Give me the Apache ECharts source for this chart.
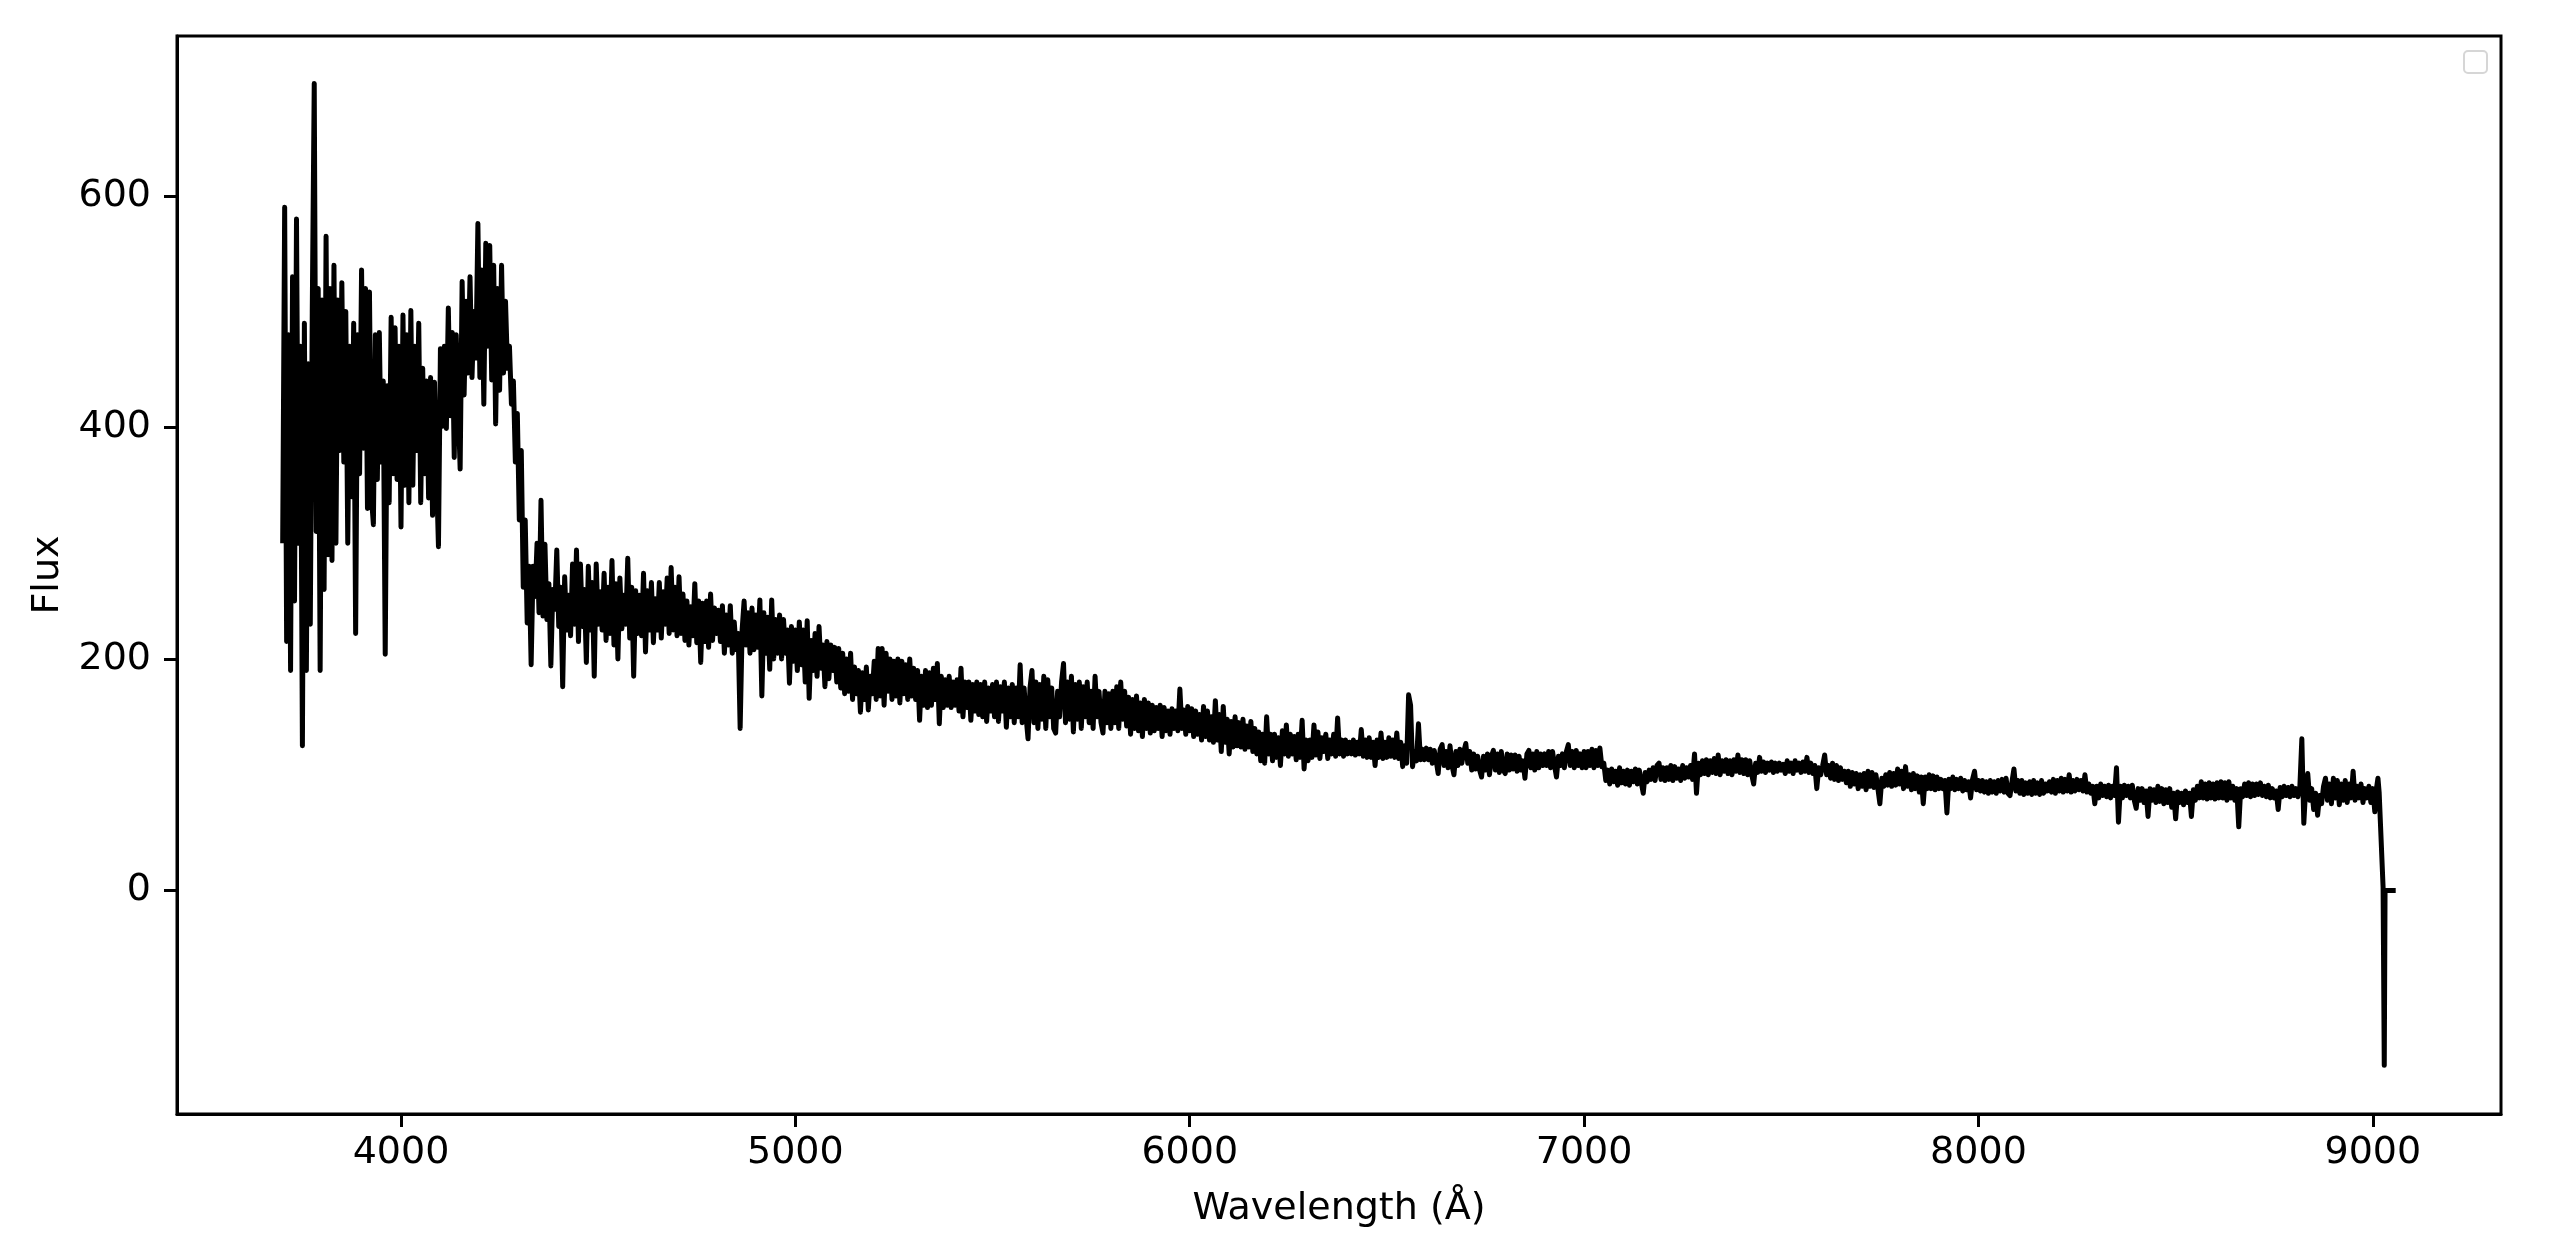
<!DOCTYPE html>
<html><head><meta charset="utf-8">
<script src="https://cdn.jsdelivr.net/npm/echarts@6/dist/echarts.min.js"></script>
<style>html,body{margin:0;padding:0;background:#fff}#c{width:2550px;height:1246px}</style>
</head><body><div id="c"></div><script>
// Blue end of the spectrum: 3700..4400 Å, every 5 Å
const blueStart = 3700, blueStep = 5;
const blueFlux = [
300,590,215,480,190,530,250,580,300,470,125,490,190,455,230,500,697,310,520,190,
510,260,565,290,520,285,540,300,510,380,525,370,500,300,470,340,490,222,480,360,
536,382,520,330,517,340,316,480,355,482,370,440,204,436,335,495,360,486,355,470,
314,497,350,480,335,501,350,470,380,490,335,451,360,440,339,443,324,439,360,297,
468,401,470,399,503,410,482,374,480,420,364,526,428,509,447,530,443,500,460,576,
443,536,420,559,470,557,441,540,403,520,432,540,447,509,451,470,420,440,370,412,
320,380,262,320,231,280,195,280,254,300,240,337,237,299,234,265,194,260,243,294,
228];
// Middle: 4405..7000 Å, every 5 Å (one row = 100 Å)
const midStart = 4405, midStep = 5;
const midFlux = [
262,176,271,225,255,220,282,230,294,215,282,228,260,197,280,225,266,185,282,230,
258,225,274,216,262,222,285,212,265,200,270,226,255,230,287,218,262,185,259,222,
255,220,274,206,259,225,266,214,252,225,266,218,258,230,270,222,279,225,262,220,
271,222,256,216,250,212,245,220,265,214,250,197,248,215,250,210,256,216,244,222,
242,215,246,205,238,212,246,205,232,208,222,140,225,250,212,240,205,244,208,238,
210,251,168,240,205,236,191,251,200,234,205,238,200,234,205,225,179,228,198,225,
190,232,195,225,180,233,166,216,190,222,185,228,192,212,176,215,183,212,190,210,
180,209,175,205,170,200,172,205,165,193,170,190,154,188,165,193,156,185,170,198,
165,209,168,209,160,205,172,200,165,198,168,200,162,198,170,195,165,200,168,192,
165,190,147,185,160,190,158,188,160,192,165,196,144,185,158,182,160,185,158,180,
160,182,155,192,150,180,158,180,147,178,155,180,152,178,150,180,146,175,155,178,
150,180,146,176,155,180,141,175,150,178,145,175,150,195,145,175,150,131,175,190,
145,180,140,178,148,185,140,182,150,175,140,136,172,150,180,196,145,180,148,185,
137,178,148,180,140,176,150,180,145,172,140,185,150,172,145,136,172,145,170,140,
172,145,176,140,180,148,172,142,167,135,165,140,168,138,162,133,165,140,162,136,
160,138,158,140,160,133,158,138,155,135,157,140,155,138,174,140,156,135,159,138,
157,133,155,135,152,130,159,133,155,130,150,128,164,130,152,120,159,128,148,118,
146,124,150,125,145,124,148,122,142,124,146,120,140,118,137,112,135,110,150,118,
135,112,135,115,132,108,138,118,143,116,135,118,133,113,135,115,147,105,130,112,
130,115,143,117,137,114,132,120,135,114,130,118,135,116,149,118,130,116,130,118,
128,118,130,117,128,118,139,116,130,115,132,115,128,108,130,115,136,114,128,115,
132,116,130,115,136,114,128,107,125,110,169,160,107,120,112,144,113,122,113,123,
113,122,110,121,112,101,122,126,108,120,106,125,108,100,120,108,122,110,120,127,
110,120,104,118,105,116,104,98,116,104,118,100,116,121,104,118,102,120,104,101,
118,104,117,105,117,103,116,104,112,97,118,121,106,118,104,120,106,118,108,118,
108,120,106,120,108,98,116,108,118,106,120,126,108,120,106,121,108,118,106,120];
// Red end: 7005..9010 Å, every 5 Å (one row = 100 Å)
const redStart = 7005, redStep = 5;
const redFlux = [
106,120,108,122,106,121,108,123,107,110,95,104,92,105,94,103,91,106,93,103,
92,104,91,103,94,105,92,104,93,84,102,94,104,96,106,95,108,110,96,106,
95,106,96,108,95,107,97,105,95,108,97,106,98,108,96,118,84,110,100,112,
101,113,100,112,102,114,101,117,100,112,103,113,101,112,100,113,103,117,102,113,
101,113,100,112,100,92,110,102,115,103,111,102,110,104,111,102,110,103,110,104,
109,101,112,103,110,101,112,104,110,102,111,103,115,102,110,101,108,88,106,100,
108,117,100,108,97,110,96,108,95,106,96,103,93,103,90,102,92,101,88,100,
90,101,87,103,90,102,89,100,88,75,97,90,100,91,102,90,101,91,105,92,
103,88,107,90,100,87,101,88,99,85,98,75,98,88,100,88,99,87,98,88,
96,88,95,67,96,88,98,87,96,88,97,86,95,87,94,80,96,103,87,95,
86,95,85,94,84,95,85,94,84,95,86,96,85,97,84,82,94,105,86,95,
84,95,83,93,84,94,83,95,84,93,83,95,84,92,86,94,85,96,84,95,
86,97,85,96,86,100,85,95,86,96,87,95,86,100,85,92,84,90,75,90,
80,92,82,90,81,91,80,90,82,106,59,90,80,91,82,90,80,91,78,71,
88,78,88,76,86,64,88,78,87,76,90,77,88,75,87,76,88,72,84,62,
85,76,84,74,86,76,84,64,87,78,90,80,94,80,92,79,93,80,92,79,
93,80,94,80,93,78,94,80,90,78,88,55,88,81,92,82,93,81,92,82,
92,83,93,82,90,81,91,80,88,80,86,70,89,81,90,82,89,81,90,82,
88,81,90,131,58,90,101,78,88,70,84,65,82,75,90,97,78,92,75,97,
80,95,74,92,78,95,76,92,80,103,78,90,80,92,76,88,80,90,76,88,
68,90];
// Detector edge
const tailWave = [9013, 9016, 9026, 9029, 9031, 9058];
const tailFlux = [97, 85, 3, -151, 0, 0];

const xTicks = [4000, 5000, 6000, 7000, 8000, 9000];
const yTicks = [0, 200, 400, 600];

function build(start, step, arr) { return arr.map((v, i) => [start + i * step, v]); }
const data = [].concat(
  build(blueStart, blueStep, blueFlux),
  build(midStart, midStep, midFlux),
  build(redStart, redStep, redFlux),
  tailWave.map((w, i) => [w, tailFlux[i]])
);

const FONT = 'DejaVu Sans';
const FS = 38;
const chart = echarts.init(document.getElementById('c'), null, {renderer: 'canvas'});
chart.setOption({
  animation: false,
  backgroundColor: '#fff',
  grid: {left: 177, right: 49, top: 36, bottom: 132, show: true, borderColor: '#000', borderWidth: 3, backgroundColor: 'transparent'},
  xAxis: {
    type: 'value', min: 3432, max: 9325,
    name: 'Wavelength (Å)', nameLocation: 'middle', nameGap: 76,
    nameTextStyle: {fontFamily: FONT, fontSize: FS, color: '#000'},
    axisLine: {show: true, onZero: false, lineStyle: {color: '#000', width: 3}},
    axisTick: {show: true, length: 13, customValues: xTicks, lineStyle: {color: '#000', width: 3}},
    axisLabel: {customValues: xTicks, margin: 20, fontFamily: FONT, fontSize: FS, color: '#000', formatter: v => String(v)},
    splitLine: {show: false}
  },
  yAxis: {
    type: 'value', min: -193, max: 738,
    name: 'Flux', nameLocation: 'middle', nameGap: 96, nameRotate: 90,
    nameTextStyle: {fontFamily: FONT, fontSize: FS, color: '#000'},
    axisLine: {show: true, onZero: false, lineStyle: {color: '#000', width: 3}},
    axisTick: {show: true, length: 13, customValues: yTicks, lineStyle: {color: '#000', width: 3}},
    axisLabel: {customValues: yTicks, margin: 26, fontFamily: FONT, fontSize: FS, color: '#000', formatter: v => String(v)},
    splitLine: {show: false}
  },
  series: [{
    type: 'line', data: data, showSymbol: false, symbol: 'none', clip: true,
    lineStyle: {color: '#000', width: 5, join: 'round'}
  }],
  graphic: [{
    type: 'rect', shape: {x: 2464, y: 51, width: 23, height: 22, r: 4},
    style: {fill: '#fff', stroke: '#d6d6d6', lineWidth: 2}
  }]
});
</script></body></html>
